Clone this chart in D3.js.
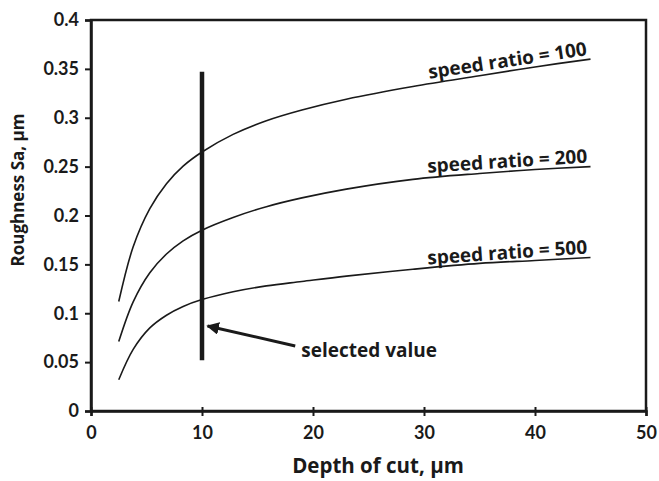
<!DOCTYPE html>
<html><head><meta charset="utf-8">
<script src="https://cdn.jsdelivr.net/npm/d3@7"></script>
<style>body{margin:0;background:#fff}svg{display:block}</style>
</head><body>
<script>
// data
const depth = [2.5, 3.8, 5.3, 6.8, 8.3, 10, 12.8, 15.8, 19, 23, 29, 35, 40, 45];
const ratio100 = [0.112, 0.168, 0.207, 0.2325, 0.2505, 0.265, 0.283, 0.297, 0.308, 0.319, 0.332, 0.343, 0.352, 0.360];
const ratio200 = [0.071, 0.1116, 0.1414, 0.1606, 0.1741, 0.185, 0.198, 0.209, 0.218, 0.227, 0.237, 0.243, 0.247, 0.250];
const ratio500 = [0.032, 0.063, 0.085, 0.098, 0.107, 0.114, 0.122, 0.128, 0.1325, 0.138, 0.145, 0.151, 0.154, 0.157];
const seriesNames = ["speed ratio = 100", "speed ratio = 200", "speed ratio = 500"];
const xTicks = [0, 10, 20, 30, 40, 50];
const yTicks = [0, 0.05, 0.1, 0.15, 0.2, 0.25, 0.3, 0.35, 0.4];
const selectedX = 10, selectedYRange = [0.052, 0.347];
const arrowFrom = [18.4, 0.0665], arrowTo = [10.5, 0.087];
const selectedLabel = "selected value";
const xTitle = "Depth of cut, µm", yTitle = "Roughness Sa, µm";

const W = 659, H = 481;
const m = {left: 91, right: 13, top: 20, bottom: 70};
const svg = d3.select("body").append("svg").attr("width", W).attr("height", H);
const x = d3.scaleLinear().domain([0, 50]).range([m.left, W - m.right]);
const y = d3.scaleLinear().domain([0, 0.4]).range([H - m.bottom, m.top]);
const ink = "#1a1a1a";
const tickFont = "Lato, 'Open Sans', sans-serif";
const textFont = "'Open Sans', Lato, sans-serif";

svg.append("defs").append("marker").attr("id", "ah")
  .attr("viewBox", "0 0 10 10").attr("refX", 9).attr("refY", 5)
  .attr("markerWidth", 4.2).attr("markerHeight", 4.2).attr("orient", "auto")
  .append("path").attr("d", "M0,0 L10,5 L0,10 z").attr("fill", ink);

// frame
svg.append("rect").attr("x", x(0)).attr("y", y(0.4)).attr("width", x(50) - x(0)).attr("height", y(0) - y(0.4))
  .attr("fill", "none").attr("stroke", ink).attr("stroke-width", 2.5);

// axes
const xAxis = svg.append("g").attr("transform", `translate(0,${y(0)})`)
  .call(d3.axisBottom(x).tickValues(xTicks).tickSize(5).tickPadding(10).tickFormat(d3.format("d")));
xAxis.selectAll(".tick line").attr("y1", -4);
const yAxis = svg.append("g").attr("transform", `translate(${x(0)},0)`)
  .call(d3.axisLeft(y).tickValues(yTicks).tickSize(6).tickPadding(6).tickFormat(d => d === 0 ? "0" : String(+d.toFixed(2))));
[xAxis, yAxis].forEach(g => {
  g.select(".domain").attr("stroke", ink).attr("stroke-width", 2.5);
  g.selectAll(".tick line").attr("stroke", ink).attr("stroke-width", 2);
  g.selectAll(".tick text").attr("fill", ink).style("font-family", tickFont).style("font-weight", "bold").style("font-size", "18px");
});

// curves
const line = d3.line().x(d => x(d[0])).y(d => y(d[1])).curve(d3.curveCatmullRom.alpha(0.5));
const allSeries = [ratio100, ratio200, ratio500];
const labelAngles = [-8.5, -3.6, -3.9];
allSeries.forEach((s, i) => {
  const pts = depth.map((d, j) => [d, s[j]]);
  svg.append("path").attr("d", line(pts)).attr("fill", "none").attr("stroke", ink).attr("stroke-width", 1.6);
  const last = pts[pts.length - 1];
  svg.append("text").attr("transform", `translate(${x(last[0]) - 3},${y(last[1]) - 4}) rotate(${labelAngles[i]})`)
    .attr("text-anchor", "end").attr("fill", ink)
    .style("font-family", textFont).style("font-weight", "bold").style("font-size", "19px")
    .text(seriesNames[i]);
});

// selected value line + arrow
svg.append("line").attr("x1", x(selectedX)).attr("x2", x(selectedX))
  .attr("y1", y(selectedYRange[0])).attr("y2", y(selectedYRange[1]))
  .attr("stroke", ink).attr("stroke-width", 4.5);
svg.append("line").attr("x1", x(arrowFrom[0])).attr("y1", y(arrowFrom[1]))
  .attr("x2", x(arrowTo[0])).attr("y2", y(arrowTo[1]))
  .attr("stroke", ink).attr("stroke-width", 3).attr("marker-end", "url(#ah)");
svg.append("text").attr("x", x(arrowFrom[0]) + 6).attr("y", y(arrowFrom[1]) + 11)
  .attr("fill", ink).style("font-family", textFont).style("font-weight", "bold").style("font-size", "19px")
  .text(selectedLabel);

// titles
svg.append("text").attr("x", 378).attr("y", 473).attr("text-anchor", "middle").attr("fill", ink)
  .style("font-family", textFont).style("font-weight", "bold").style("font-size", "20.5px").text(xTitle);
svg.append("text").attr("transform", `translate(24,190) rotate(-90)`).attr("text-anchor", "middle").attr("fill", ink)
  .style("font-family", textFont).style("font-weight", "bold").style("font-size", "17px").text(yTitle);
</script>
</body></html>
